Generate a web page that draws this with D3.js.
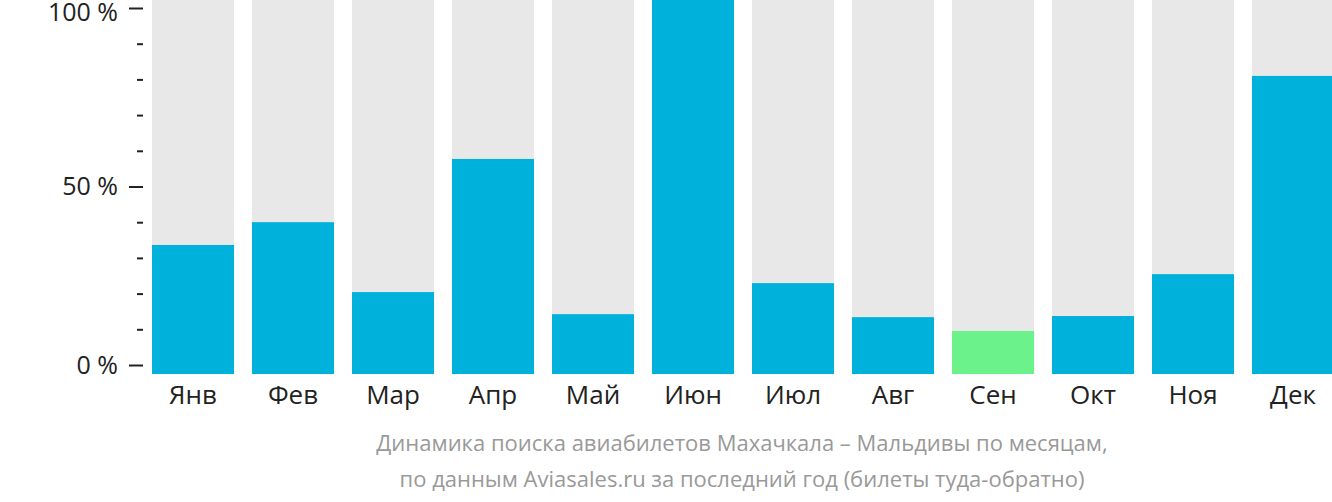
<!DOCTYPE html>
<html>
<head>
<meta charset="utf-8">
<script src="https://cdn.jsdelivr.net/npm/d3@7"></script>
<style>
  body { margin: 0; background: #fff; }
  svg { display: block; font-family: "Open Sans", sans-serif; }
</style>
</head>
<body>
<div id="chart"></div>
<script>
const months = ["Янв", "Фев", "Мар", "Апр", "Май", "Июн", "Июл", "Авг", "Сен", "Окт", "Ноя", "Дек"];
const values = [34.5, 40.6, 21.9, 57.5, 16.0, 100, 24.3, 15.2, 11.5, 15.5, 26.7, 79.7];
const lowest = "Сен"; // cheapest month shown in green
const majorTicks = [0, 50, 100];
const minorTicks = [10, 20, 30, 40, 60, 70, 80, 90];
const caption = [
    "Динамика поиска авиабилетов Махачкала – Мальдивы по месяцам,",
    "по данным Aviasales.ru за последний год (билеты туда-обратно)"
];

const width = 1332, height = 502;
const font = "'Open Sans', sans-serif";

const svg = d3.select("#chart")
    .append("svg")
    .attr("width", width)
    .attr("height", height);

// Scales
const x = d3.scaleBand()
    .domain(months)
    .range([143, 1343])
    .paddingInner(0.18)
    .paddingOuter(0.09);

// bars sit a little lower than the axis zero line
const yBar = d3.scaleLinear().domain([0, 100]).range([374, 0]);
const yAxis = d3.scaleLinear().domain([0, 100]).range([365, 8]);

// Background bars
svg.selectAll("rect.bg")
    .data(months)
    .enter()
    .append("rect")
    .attr("class", "bg")
    .attr("x", d => x(d))
    .attr("y", yBar(100))
    .attr("width", x.bandwidth())
    .attr("height", yBar(0) - yBar(100))
    .attr("fill", "#e8e8e8");

// Value bars
svg.selectAll("rect.val")
    .data(values)
    .enter()
    .append("rect")
    .attr("class", "val")
    .attr("x", (d, i) => x(months[i]))
    .attr("y", d => yBar(d))
    .attr("width", x.bandwidth())
    .attr("height", d => yBar(0) - yBar(d))
    .attr("fill", (d, i) => months[i] === lowest ? "#6cf28a" : "#00b1dc");

// Y axis: major ticks with labels
const gMajor = svg.append("g")
    .attr("transform", "translate(143,0)")
    .call(d3.axisLeft(yAxis).tickValues(majorTicks).tickSize(14).tickPadding(11)
        .tickFormat(d => d + " %"));
gMajor.select(".domain").remove();
gMajor.selectAll("line").attr("stroke", "#222").attr("stroke-width", 2);
gMajor.selectAll("text").attr("fill", "#222")
    .style("font-size", "25px").style("font-family", font);
// top label is nudged down so it is not clipped
gMajor.selectAll(".tick").filter(d => d === 100).select("text").attr("dy", "0.48em");

// Y axis: minor ticks
const gMinor = svg.append("g")
    .attr("transform", "translate(143,0)")
    .call(d3.axisLeft(yAxis).tickValues(minorTicks).tickSize(6).tickFormat(""));
gMinor.select(".domain").remove();
gMinor.selectAll("line").attr("stroke", "#222").attr("stroke-width", 2);

// X axis labels
const gx = svg.append("g")
    .attr("transform", "translate(0,374)")
    .call(d3.axisBottom(x).tickSize(0).tickPadding(12));
gx.select(".domain").remove();
gx.selectAll("text").attr("fill", "#222")
    .style("font-size", "26px").style("font-family", font);

// Caption
svg.selectAll("text.caption")
    .data(caption)
    .enter()
    .append("text")
    .attr("class", "caption")
    .attr("x", 742)
    .attr("y", (d, i) => 451 + i * 36)
    .attr("text-anchor", "middle")
    .attr("fill", "#999")
    .style("font-size", "22px")
    .style("font-family", font)
    .text(d => d);
</script>
</body>
</html>
